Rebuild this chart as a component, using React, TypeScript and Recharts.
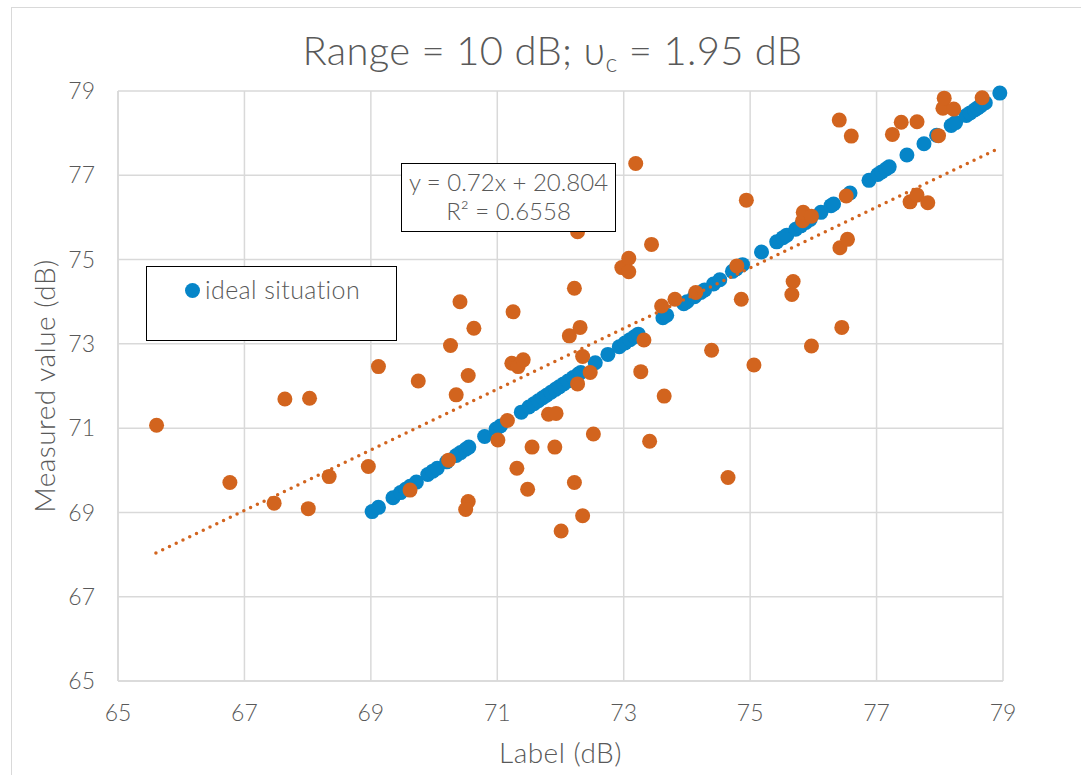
import { ScatterChart, Scatter, XAxis, YAxis, CartesianGrid } from "recharts";

// orange: measured vs label
const labelDb = [
  65.61, 66.77, 67.47, 67.64, 68.03, 68.01, 68.34, 68.96, 69.12, 69.62, 69.75, 70.23, 70.26, 70.35,
  70.41, 70.54, 70.54, 70.5, 70.63, 71.01, 71.16, 71.23, 71.25, 71.33, 71.41, 71.31, 71.48, 71.55,
  71.81, 71.93, 71.91, 72.01, 72.14, 72.22, 72.22, 72.27, 72.27, 72.31, 72.35, 72.35, 72.47, 72.52,
  72.97, 73.08, 73.08, 73.19, 73.27, 73.32, 73.41, 73.44, 73.6, 73.64, 73.81, 74.14, 74.39, 74.65,
  74.79, 74.86, 74.94, 75.06, 75.66, 75.68, 75.83, 75.84, 75.97, 75.97, 76.41, 76.42, 76.45, 76.52,
  76.54, 76.6, 77.25, 77.39, 77.53, 77.64, 77.64, 77.81, 77.98, 78.05, 78.07, 78.22, 78.67,
];
const measuredDb = [
  71.07, 69.71, 69.22, 71.69, 71.71, 69.09, 69.85, 70.09, 72.46, 69.53, 72.12, 70.24, 72.96, 71.79,
  74.0, 72.25, 69.26, 69.07, 73.37, 70.72, 71.18, 72.54, 73.76, 72.46, 72.62, 70.05, 69.55, 70.55,
  71.33, 71.35, 70.55, 68.56, 73.19, 74.32, 69.71, 72.05, 75.66, 73.39, 72.7, 68.92, 72.32, 70.86,
  74.81, 75.03, 74.71, 77.28, 72.34, 73.09, 70.69, 75.36, 73.9, 71.76, 74.06, 74.22, 72.85, 69.83,
  74.85, 74.06, 76.41, 72.5, 74.17, 74.48, 75.92, 76.12, 76.03, 72.95, 78.31, 75.28, 73.39, 76.51,
  75.48, 77.93, 77.97, 78.26, 76.37, 78.27, 76.53, 76.35, 77.94, 78.59, 78.83, 78.57, 78.84,
];

// blue: ideal situation, measured == label
const idealDb = [
  69.02, 69.12, 69.35, 69.47, 69.55, 69.62, 69.72, 69.9, 69.98, 70.05, 70.2, 70.35, 70.42, 70.5, 70.55,
  70.8, 70.98, 71.05, 71.38, 71.5, 71.58, 71.65, 71.72, 71.78, 71.85, 71.92, 71.98, 72.05, 72.12, 72.2,
  72.28, 72.32, 72.55, 72.75, 72.93, 73.02, 73.1, 73.17, 73.23, 73.62, 73.68, 73.95, 74.0, 74.12, 74.22,
  74.28, 74.42, 74.52, 74.72, 74.78, 74.88, 75.18, 75.42, 75.52, 75.58, 75.72, 75.8, 75.88, 75.95,
  76.12, 76.28, 76.32, 76.58, 76.88, 77.02, 77.08, 77.15, 77.2, 77.48, 77.75, 77.95, 78.18, 78.25,
  78.42, 78.48, 78.55, 78.6, 78.65, 78.72, 78.95,
];

const ticks = [65, 67, 69, 71, 73, 75, 77, 79];
const trendSlope = 0.72;
const trendIntercept = 20.804;
const trendRange = [65.6, 78.9];

const ORANGE = "#D2641E";
const BLUE = "#0685C8";
const TEXT = "#595959";
const GRID = "#D9D9D9";
const FONT = "Lato, 'Noto Sans', sans-serif";

const measured = labelDb.map((x, i) => ({ x, y: measuredDb[i] }));
const ideal = idealDb.map((v) => ({ x: v, y: v }));
const trend = trendRange.map((x) => ({ x, y: trendSlope * x + trendIntercept }));

const dot = (color: string) => (p: any) => <circle cx={p.cx} cy={p.cy} r={7.5} fill={color} />;

export default function App() {
  return (
    <div style={{ position: "absolute", left: 0, top: 0, width: 1081, height: 775, overflow: "hidden", background: "#fff", fontFamily: FONT, fontWeight: 300 }}>
      <div style={{ position: "absolute", left: 11, top: 7, width: 1200, height: 900, borderLeft: `1.5px solid ${GRID}`, borderTop: `1.5px solid ${GRID}` }} />
      <div style={{ position: "absolute", left: 0, width: 1105, top: 25, textAlign: "center", fontSize: 40, color: TEXT, lineHeight: "50px", letterSpacing: 0.3 }}>
        Range = 10 dB; υ<sub style={{ fontSize: 25, verticalAlign: "-7px" }}>c</sub> = 1.95 dB
      </div>

      <ScatterChart width={1081} height={775} margin={{ top: 91, right: 78, bottom: 64, left: 58 }} style={{ position: "absolute", left: 0, top: 0 }}>
        <CartesianGrid stroke={GRID} strokeWidth={1.5} horizontalValues={ticks} verticalValues={ticks} />
        <XAxis
          type="number"
          dataKey="x"
          domain={[65, 79]}
          ticks={ticks}
          tickSize={0}
          tickMargin={24}
          axisLine={{ stroke: GRID, strokeWidth: 1.5 }}
          tickLine={false}
          tick={{ fontSize: 23, fill: TEXT, fontFamily: FONT, fontWeight: 300 }}
          label={{ value: "Label (dB)", position: "insideBottom", offset: -52, style: { fontSize: 28, fill: TEXT, fontFamily: FONT, fontWeight: 300, letterSpacing: 0.5 } }}
        />
        <YAxis
          type="number"
          dataKey="y"
          domain={[65, 79]}
          ticks={ticks}
          width={60}
          tickSize={0}
          tickMargin={23}
          axisLine={{ stroke: GRID, strokeWidth: 1.5 }}
          tickLine={false}
          tick={{ fontSize: 23, fill: TEXT, fontFamily: FONT, fontWeight: 300 }}
          label={{ value: "Measured value (dB)", angle: -90, position: "insideLeft", offset: -13, style: { fontSize: 28, fill: TEXT, fontFamily: FONT, fontWeight: 300, letterSpacing: 0.5, textAnchor: "middle" } }}
        />
        <Scatter name="ideal situation" data={ideal} fill={BLUE} shape={dot(BLUE)} isAnimationActive={false} />
        <Scatter name="measured" data={measured} fill={ORANGE} shape={dot(ORANGE)} isAnimationActive={false} />
        <Scatter
          name="trend"
          data={trend}
          line={{ stroke: ORANGE, strokeWidth: 3.5, strokeDasharray: "0 7.5", strokeLinecap: "round" }}
          shape={() => <g />}
          isAnimationActive={false}
        />
      </ScatterChart>

      <div style={{ position: "absolute", left: 401, top: 163, width: 213, height: 64, border: "1.5px solid #000", background: "#fff", color: TEXT, fontSize: 24, textAlign: "center", lineHeight: "29px", paddingTop: 3, boxSizing: "content-box", whiteSpace: "nowrap" }}>
        <div>y = 0.72x + 20.804</div>
        <div>R² = 0.6558</div>
      </div>

      <div style={{ position: "absolute", left: 146, top: 266, width: 249, height: 73, border: "1.5px solid #000", background: "#fff" }}>
        <span style={{ position: "absolute", left: 38, top: 16, width: 15, height: 15, borderRadius: "50%", background: BLUE }} />
        <span style={{ position: "absolute", left: 58, top: 6, fontSize: 25, color: TEXT, lineHeight: "32px", letterSpacing: 0.4, whiteSpace: "nowrap" }}>ideal situation</span>
      </div>
    </div>
  );
}
